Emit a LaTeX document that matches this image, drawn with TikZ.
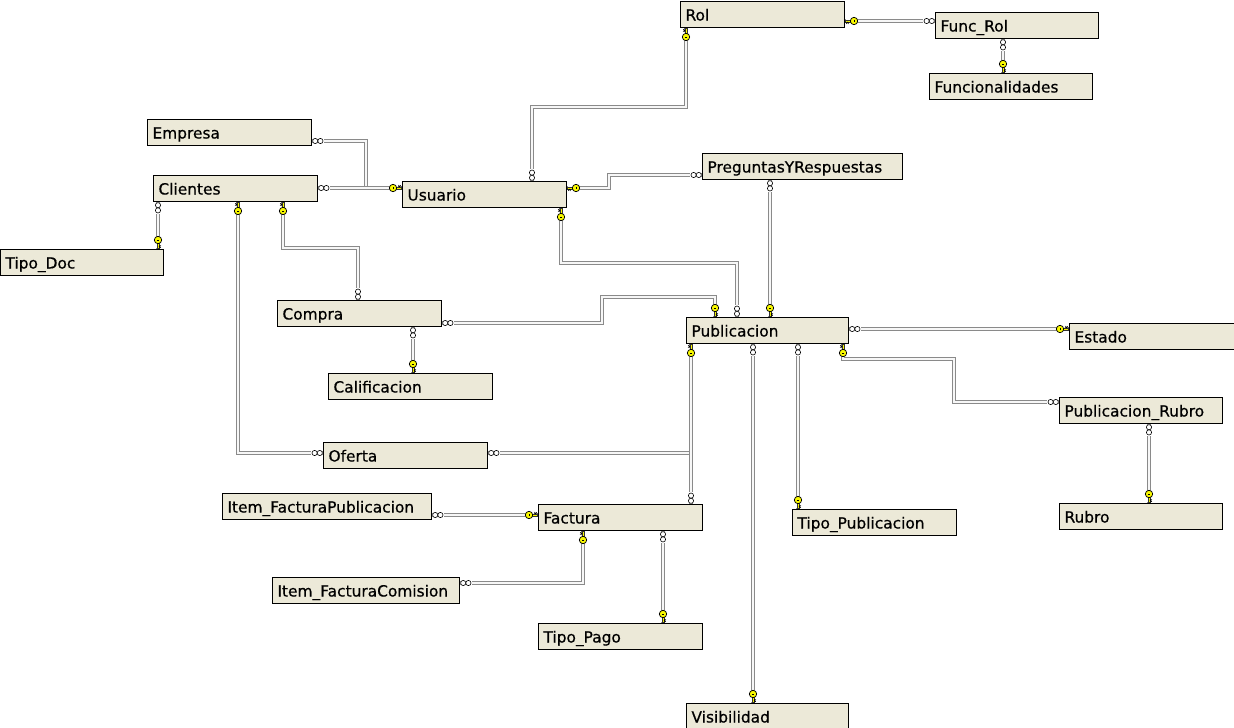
\documentclass[tikz,border=0pt]{standalone}
\usepackage{fontspec}
\setmainfont[FakeBold=0.5]{DejaVu Sans}
\definecolor{fondo}{HTML}{ECE9D8}
\definecolor{amarillo}{HTML}{F8F800}
\definecolor{linea}{HTML}{8A8A8A}

\tikzset{
  llave/.pic={
    \fill[white] (0.6,-3) rectangle (5.6,3);
    \draw[draw=black!80, fill=amarillo, line width=.4] (0.6,-1.1) rectangle (6,1.1);
    \draw[black, line width=.5] (0.8,1.1) -- (1.6,2.6) -- (2.4,1.1) -- (3.2,2.6) -- (4,1.1);
    \draw[fill=amarillo, line width=.7] (9,0) circle (3.7);
    \draw[line width=1] (9,-1.4) -- (9,1.4);
  },
  muchos/.pic={
    \fill[white] (0.6,-3.5) rectangle (12,3.5);
    \draw[line width=.6, fill=white] (3.2,0) circle (2.6) (8.4,0) circle (2.6);
  }
}

\begin{document}
\begin{tikzpicture}[x=1pt, y=-1pt,
   tabla/.style={draw=black, line width=1pt, fill=fondo, anchor=north west,
     inner xsep=5pt, inner ysep=0pt, minimum height=26pt, text width=#1,
     align=left, text height=14pt, text depth=2pt, font=\fontsize{15.4}{17}\selectfont},
   tabla/.default=154pt,
   rel/.style={draw=linea, double=black!3, double distance=1.7pt, line width=1.1pt}]

\useasboundingbox (0,0) rectangle (1234,728);

\node[tabla] (rol) at (680,1) {Rol};
\node[tabla=153pt] (funcrol) at (935,12) {Func\_Rol};
\node[tabla=153pt] (funcionalidades) at (929,73) {Funcionalidades};
\node[tabla] (empresa) at (147,119) {Empresa};
\node[tabla] (clientes) at (153,175) {Clientes};
\node[tabla] (usuario) at (402,181) {Usuario};
\node[tabla=190pt] (preguntas) at (702,153) {PreguntasYRespuestas};
\node[tabla=153pt] (tipodoc) at (0,249) {Tipo\_Doc};
\node[tabla] (compra) at (277,300) {Compra};
\node[tabla=152pt] (publicacion) at (686,317) {Publicacion};
\node[tabla=160pt] (estado) at (1069,323) {Estado};
\node[tabla] (calificacion) at (328,373) {Calificacion};
\node[tabla=153pt] (pubrubro) at (1059,397) {Publicacion\_Rubro};
\node[tabla] (oferta) at (323,442) {Oferta};
\node[tabla=199pt] (itemfactpub) at (222,493) {Item\_FacturaPublicacion};
\node[tabla] (factura) at (538,504) {Factura};
\node[tabla] (tipopub) at (792,509) {Tipo\_Publicacion};
\node[tabla=153pt] (rubro) at (1059,503) {Rubro};
\node[tabla=177pt] (itemfactcom) at (272,577) {Item\_FacturaComision};
\node[tabla] (tipopago) at (538,623) {Tipo\_Pago};
\node[tabla=152pt] (visibilidad) at (686,703) {Visibilidad};

% Rol - Func_Rol - Funcionalidades
\draw[rel] (rol.east |- 0,21) -- (funcrol.west |- 0,21);
\pic at (rol.east |- 0,21) {llave};
\pic[rotate=180] at (funcrol.west |- 0,21) {muchos};
\draw[rel] (funcrol.south -| 1003,0) -- (funcionalidades.north -| 1003,0);
\pic[rotate=-90] at (funcrol.south -| 1003,0) {muchos};
\pic[rotate=90] at (funcionalidades.north -| 1003,0) {llave};

% Usuario
\draw[rel] (rol.south -| 686,0) -- (686,107) -| (usuario.north -| 532,0);
\pic[rotate=-90] at (rol.south -| 686,0) {llave};
\pic[rotate=90] at (usuario.north -| 532,0) {muchos};
\draw[rel] (empresa.east |- 0,141) -| (366,188) -- (usuario.west |- 0,188);
\pic at (empresa.east |- 0,141) {muchos};
\draw[rel] (clientes.east |- 0,188) -- (usuario.west |- 0,188);
\pic at (clientes.east |- 0,188) {muchos};
\pic[rotate=180] at (usuario.west |- 0,188) {llave};
\draw[rel] (usuario.east |- 0,188) -| (609,175) -- (preguntas.west |- 0,175);
\pic at (usuario.east |- 0,188) {llave};
\pic[rotate=180] at (preguntas.west |- 0,175) {muchos};
\draw[rel] (usuario.south -| 561,0) |- (737,263) -- (publicacion.north -| 737,0);
\pic[rotate=-90] at (usuario.south -| 561,0) {llave};
\pic[rotate=90] at (publicacion.north -| 737,0) {muchos};

% Clientes
\draw[rel] (clientes.south -| 158,0) -- (tipodoc.north -| 158,0);
\pic[rotate=-90] at (clientes.south -| 158,0) {muchos};
\pic[rotate=90] at (tipodoc.north -| 158,0) {llave};
\draw[rel] (clientes.south -| 238,0) |- (oferta.west |- 0,453);
\pic[rotate=-90] at (clientes.south -| 238,0) {llave};
\pic[rotate=180] at (oferta.west |- 0,453) {muchos};
\draw[rel] (clientes.south -| 283,0) |- (358,248) -- (compra.north -| 358,0);
\pic[rotate=-90] at (clientes.south -| 283,0) {llave};
\pic[rotate=90] at (compra.north -| 358,0) {muchos};

% Compra
\draw[rel] (compra.east |- 0,323) -| (602,297) -| (publicacion.north -| 715,0);
\pic at (compra.east |- 0,323) {muchos};
\pic[rotate=90] at (publicacion.north -| 715,0) {llave};
\draw[rel] (compra.south -| 413,0) -- (calificacion.north -| 413,0);
\pic[rotate=-90] at (compra.south -| 413,0) {muchos};
\pic[rotate=90] at (calificacion.north -| 413,0) {llave};

% Publicacion
\draw[rel] (preguntas.south -| 770,0) -- (publicacion.north -| 770,0);
\pic[rotate=-90] at (preguntas.south -| 770,0) {muchos};
\pic[rotate=90] at (publicacion.north -| 770,0) {llave};
\draw[rel] (publicacion.east |- 0,329) -- (estado.west |- 0,329);
\pic at (publicacion.east |- 0,329) {muchos};
\pic[rotate=180] at (estado.west |- 0,329) {llave};
\draw[rel] (publicacion.south -| 843,0) |- (954,359) |- (pubrubro.west |- 0,402);
\pic[rotate=-90] at (publicacion.south -| 843,0) {llave};
\pic[rotate=180] at (pubrubro.west |- 0,402) {muchos};
\draw[rel] (pubrubro.south -| 1149,0) -- (rubro.north -| 1149,0);
\pic[rotate=-90] at (pubrubro.south -| 1149,0) {muchos};
\pic[rotate=90] at (rubro.north -| 1149,0) {llave};
\draw[rel] (oferta.east |- 0,453) -| (publicacion.south -| 691,0);
\pic at (oferta.east |- 0,453) {muchos};
\draw[rel] (publicacion.south -| 691,0) -- (factura.north -| 691,0);
\pic[rotate=-90] at (publicacion.south -| 691,0) {llave};
\pic[rotate=90] at (factura.north -| 691,0) {muchos};
\draw[rel] (publicacion.south -| 753,0) -- (visibilidad.north -| 753,0);
\pic[rotate=-90] at (publicacion.south -| 753,0) {muchos};
\pic[rotate=90] at (visibilidad.north -| 753,0) {llave};
\draw[rel] (publicacion.south -| 798,0) -- (tipopub.north -| 798,0);
\pic[rotate=-90] at (publicacion.south -| 798,0) {muchos};
\pic[rotate=90] at (tipopub.north -| 798,0) {llave};

% Factura
\draw[rel] (itemfactpub.east |- 0,515) -- (factura.west |- 0,515);
\pic at (itemfactpub.east |- 0,515) {muchos};
\pic[rotate=180] at (factura.west |- 0,515) {llave};
\draw[rel] (factura.south -| 583,0) |- (itemfactcom.east |- 0,583);
\pic[rotate=-90] at (factura.south -| 583,0) {llave};
\pic at (itemfactcom.east |- 0,583) {muchos};
\draw[rel] (factura.south -| 663,0) -- (tipopago.north -| 663,0);
\pic[rotate=-90] at (factura.south -| 663,0) {muchos};
\pic[rotate=90] at (tipopago.north -| 663,0) {llave};

\end{tikzpicture}
\end{document}
